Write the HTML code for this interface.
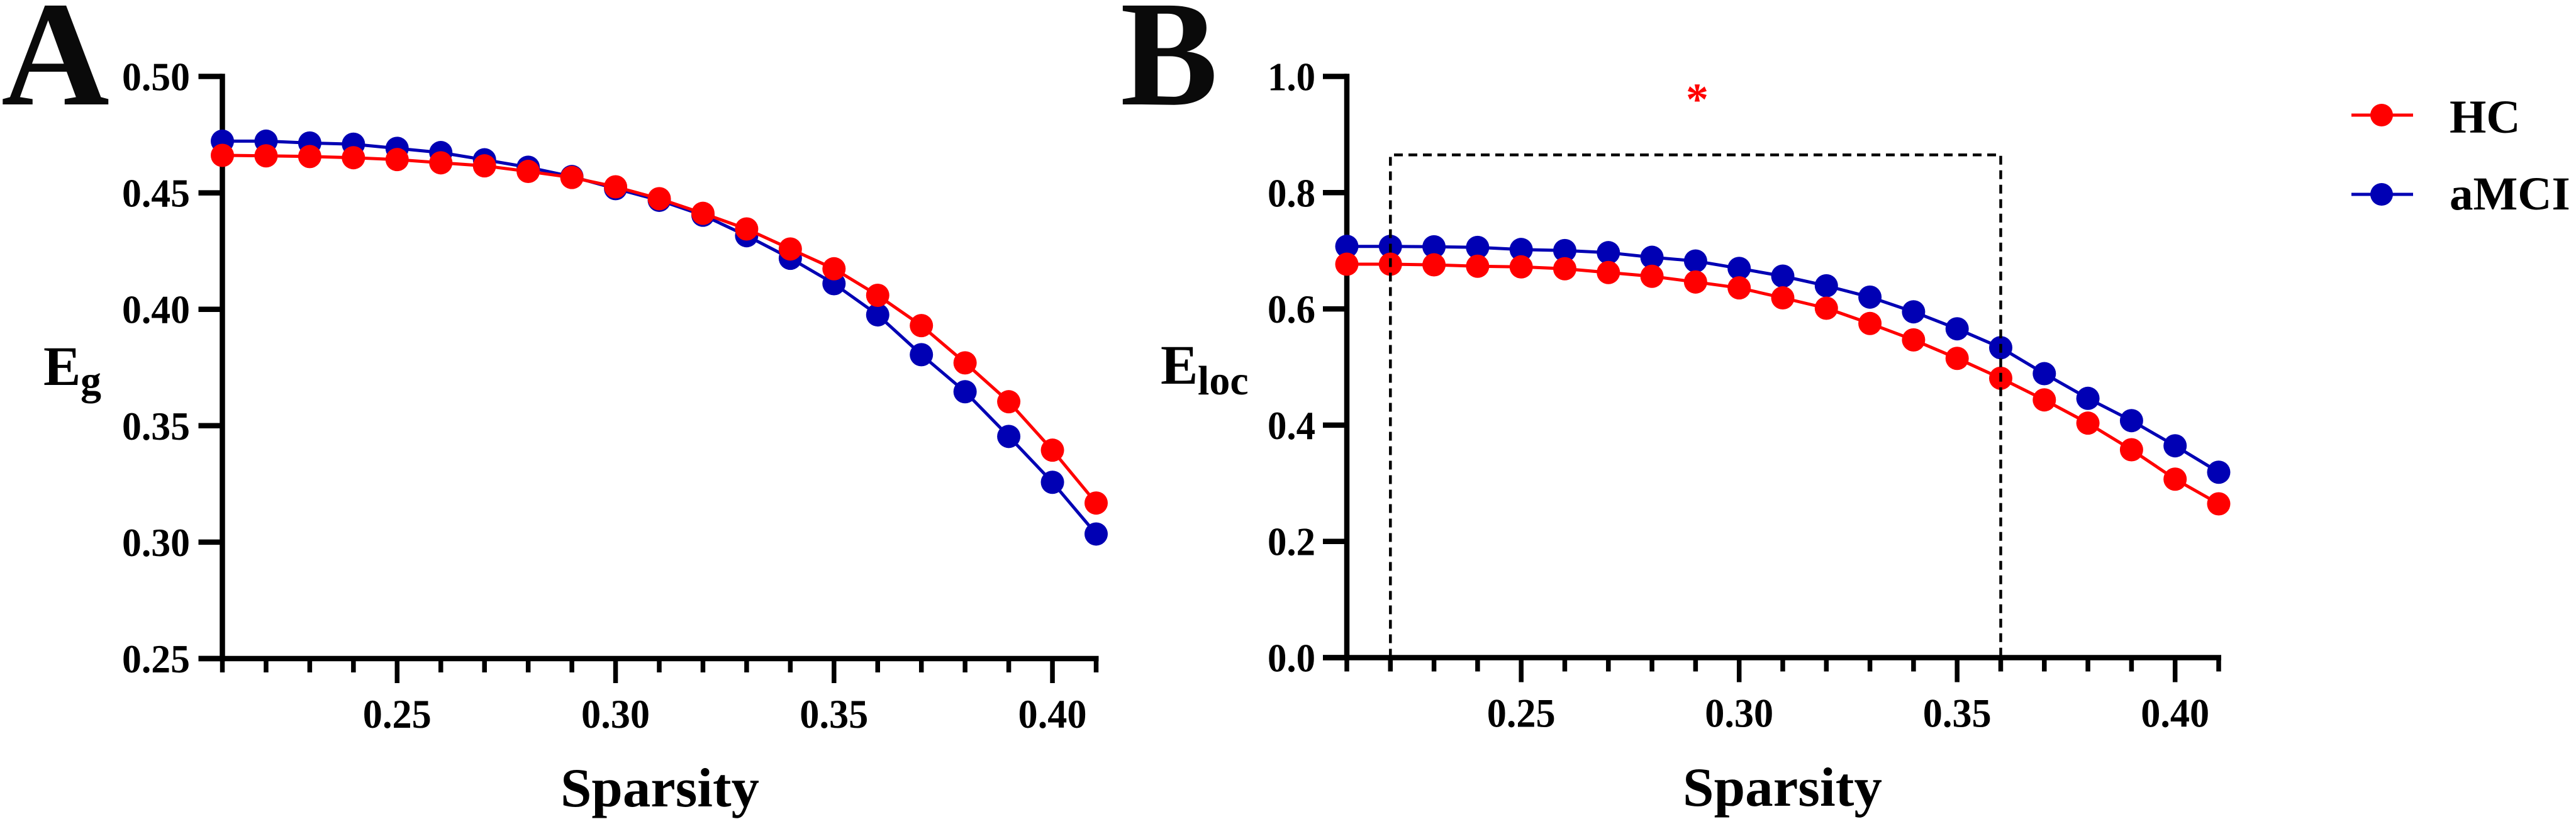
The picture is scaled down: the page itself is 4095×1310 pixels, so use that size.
<!DOCTYPE html>
<html lang="en">
<head>
<meta charset="utf-8">
<title>Sparsity curves for Eg and Eloc</title>
<style>
html,body{margin:0;padding:0;background:#fff;width:4095px;height:1310px;overflow:hidden}
svg{display:block}
text{font-family:"Liberation Serif",serif;font-weight:bold;fill:#000}
</style>
</head>
<body>
<svg id="figure" xmlns="http://www.w3.org/2000/svg" width="4095" height="1310" viewBox="0 0 4095 1310">
  <rect x="0" y="0" width="4095" height="1310" fill="#fff"/>
  <text x="2" y="166" font-size="238" textLength="172" lengthAdjust="spacingAndGlyphs" style="fill:#0a0a0a">A</text>
  <text x="1781" y="166" font-size="240" textLength="155" lengthAdjust="spacingAndGlyphs" style="fill:#0a0a0a">B</text>
  <text x="69" y="612" font-size="89">E</text>
  <text x="128" y="627" font-size="66">g</text>
  <text x="1845" y="610" font-size="89">E</text>
  <text x="1904" y="627" font-size="66">loc</text>
  <text x="891" y="1282" font-size="88" textLength="316" lengthAdjust="spacingAndGlyphs">Sparsity</text>
  <text x="2675" y="1281" font-size="88" textLength="317" lengthAdjust="spacingAndGlyphs">Sparsity</text>
  <g id="panel-a"></g>
  <g id="panel-b"></g>
  <text x="2698" y="182" font-size="72" text-anchor="middle" style="fill:#ff0000">*</text>
  <g>
    <g>
      <line x1="3738" y1="183" x2="3836" y2="183" stroke="#ff0000" stroke-width="5"/>
      <circle cx="3786" cy="183" r="18" fill="#ff0000"/>
      <text x="3894" y="211" font-size="75">HC</text>
    </g>
    <g>
      <line x1="3738" y1="309" x2="3836" y2="309" stroke="#0000b4" stroke-width="5"/>
      <circle cx="3786" cy="309" r="18" fill="#0000b4"/>
      <text x="3894" y="333" font-size="75">aMCI</text>
    </g>
  </g>
</svg>
<script>
const sparsity = [0.21,0.22,0.23,0.24,0.25,0.26,0.27,0.28,0.29,0.30,0.31,0.32,0.33,0.34,0.35,0.36,0.37,0.38,0.39,0.40,0.41];
const egHC = [0.4661,0.4659,0.4656,0.4651,0.4643,0.4629,0.4616,0.4592,0.4566,0.4526,0.4475,0.4412,0.4345,0.4259,0.4174,0.4060,0.3930,0.3770,0.3603,0.3395,0.3168];
const egAMCI = [0.4722,0.4722,0.4714,0.4709,0.4691,0.4673,0.4642,0.4610,0.4570,0.4518,0.4468,0.4404,0.4316,0.4219,0.4110,0.3976,0.3805,0.3646,0.3454,0.3257,0.3035];
const elocHC = [0.6769,0.6769,0.6758,0.6734,0.6723,0.6691,0.6626,0.6561,0.6463,0.6362,0.6190,0.6012,0.5749,0.5467,0.5149,0.4807,0.4435,0.4035,0.3577,0.3071,0.2646];
const elocAMCI = [0.7076,0.7076,0.7069,0.7058,0.7022,0.7004,0.6968,0.6888,0.6824,0.6697,0.6564,0.6398,0.6203,0.5950,0.5658,0.5333,0.4886,0.4461,0.4078,0.3645,0.3190];
const xTickLabels = ['0.25','0.30','0.35','0.40'];
const egTickLabels = ['0.25','0.30','0.35','0.40','0.45','0.50'];
const elocTickLabels = ['0.0','0.2','0.4','0.6','0.8','1.0'];
const significantRange = [0.22,0.36];
const significantTop = 0.865;

const SVG_NS = 'http://www.w3.org/2000/svg';
const RED = '#ff0000';
const BLUE = '#0000b4';

function make(parent, tag, attrs) {
  const el = document.createElementNS(SVG_NS, tag);
  for (const k in attrs) el.setAttribute(k, attrs[k]);
  parent.appendChild(el);
  return el;
}

function drawPanel(opts) {
  const root = document.getElementById(opts.id);
  const xDomainMin = sparsity[0];
  const xDomainMax = sparsity[sparsity.length - 1];
  const yMin = Number(opts.yLabels[0]);
  const yMax = Number(opts.yLabels[opts.yLabels.length - 1]);
  const xScale = v => opts.x0 + (v - xDomainMin) / (xDomainMax - xDomainMin) * (opts.x1 - opts.x0);
  const yScale = v => opts.y0 + (v - yMin) / (yMax - yMin) * (opts.y1 - opts.y0);
  const axisWidth = 8.5;

  const yAxis = make(root, 'line', {x1: opts.x0, y1: opts.y1 - axisWidth / 2, x2: opts.x0, y2: opts.y0 + axisWidth / 2, stroke: '#000', 'stroke-width': axisWidth});
  
  

  const xAxis = make(root, 'line', {x1: opts.x0 - 38, y1: opts.y0, x2: opts.x1 + 4, y2: opts.y0, stroke: '#000', 'stroke-width': axisWidth});
  
  

  opts.yLabels.forEach(function (label) {
    const y = yScale(Number(label));
    const tick = make(root, 'line', {x1: opts.x0 - 38, y1: y, x2: opts.x0, y2: y, stroke: '#000', 'stroke-width': axisWidth});
    
    
    const text = make(root, 'text', {x: opts.yLabelRight, y: y + 22, 'font-size': 64, 'text-anchor': 'end', textLength: opts.yLabelWidth, lengthAdjust: 'spacingAndGlyphs'});
    text.textContent = label;
    
    
  });

  sparsity.forEach(function (v) {
    const x = xScale(v);
    const major = xTickLabels.indexOf(v.toFixed(2)) >= 0;
    const tick = make(root, 'line', {x1: x, y1: opts.y0, x2: x, y2: opts.y0 + (major ? 39 : 22), stroke: '#000', 'stroke-width': 7.5});
    
    
  });

  xTickLabels.forEach(function (label) {
    const text = make(root, 'text', {x: xScale(Number(label)), y: opts.y0 + 110, 'font-size': 65, 'text-anchor': 'middle', textLength: 109, lengthAdjust: 'spacingAndGlyphs'});
    text.textContent = label;
    
    
  });

  opts.series.forEach(function (s) {
    const group = make(root, 'g', {});
    
    
    const pts = s.values.map((v, i) => xScale(sparsity[i]).toFixed(1) + ',' + yScale(v).toFixed(1)).join(' ');
    const line = make(group, 'polyline', {points: pts, fill: 'none', stroke: s.color, 'stroke-width': 5, 'stroke-linejoin': 'round'});
    
    
    s.values.forEach(function (v, i) {
      const dot = make(group, 'circle', {cx: xScale(sparsity[i]), cy: yScale(v), r: 18.5, fill: s.color});
      
      
    });
  });

  if (opts.box) {
    const left = xScale(opts.box.range[0]);
    const right = xScale(opts.box.range[1]);
    const top = yScale(opts.box.top);
    const box = make(root, 'path', {d: 'M' + left + ' ' + opts.y0 + 'L' + left + ' ' + top + 'L' + right + ' ' + top + 'L' + right + ' ' + opts.y0, fill: 'none', stroke: '#000', 'stroke-width': 4.5, 'stroke-dasharray': '14 9'});
    
    
  }
}

drawPanel({
  id: 'panel-a', x0: 353.5, x1: 1742.5, y0: 1047, y1: 121.5,
  yLabels: egTickLabels, yLabelRight: 302, yLabelWidth: 108,
  series: [
    {name: 'amci', color: BLUE, values: egAMCI},
    {name: 'hc', color: RED, values: egHC}
  ]
});
drawPanel({
  id: 'panel-b', x0: 2141, x1: 3527, y0: 1045.5, y1: 121.5,
  yLabels: elocTickLabels, yLabelRight: 2091, yLabelWidth: 76,
  series: [
    {name: 'amci', color: BLUE, values: elocAMCI},
    {name: 'hc', color: RED, values: elocHC}
  ],
  box: {range: significantRange, top: significantTop}
});
</script>
</body>
</html>
